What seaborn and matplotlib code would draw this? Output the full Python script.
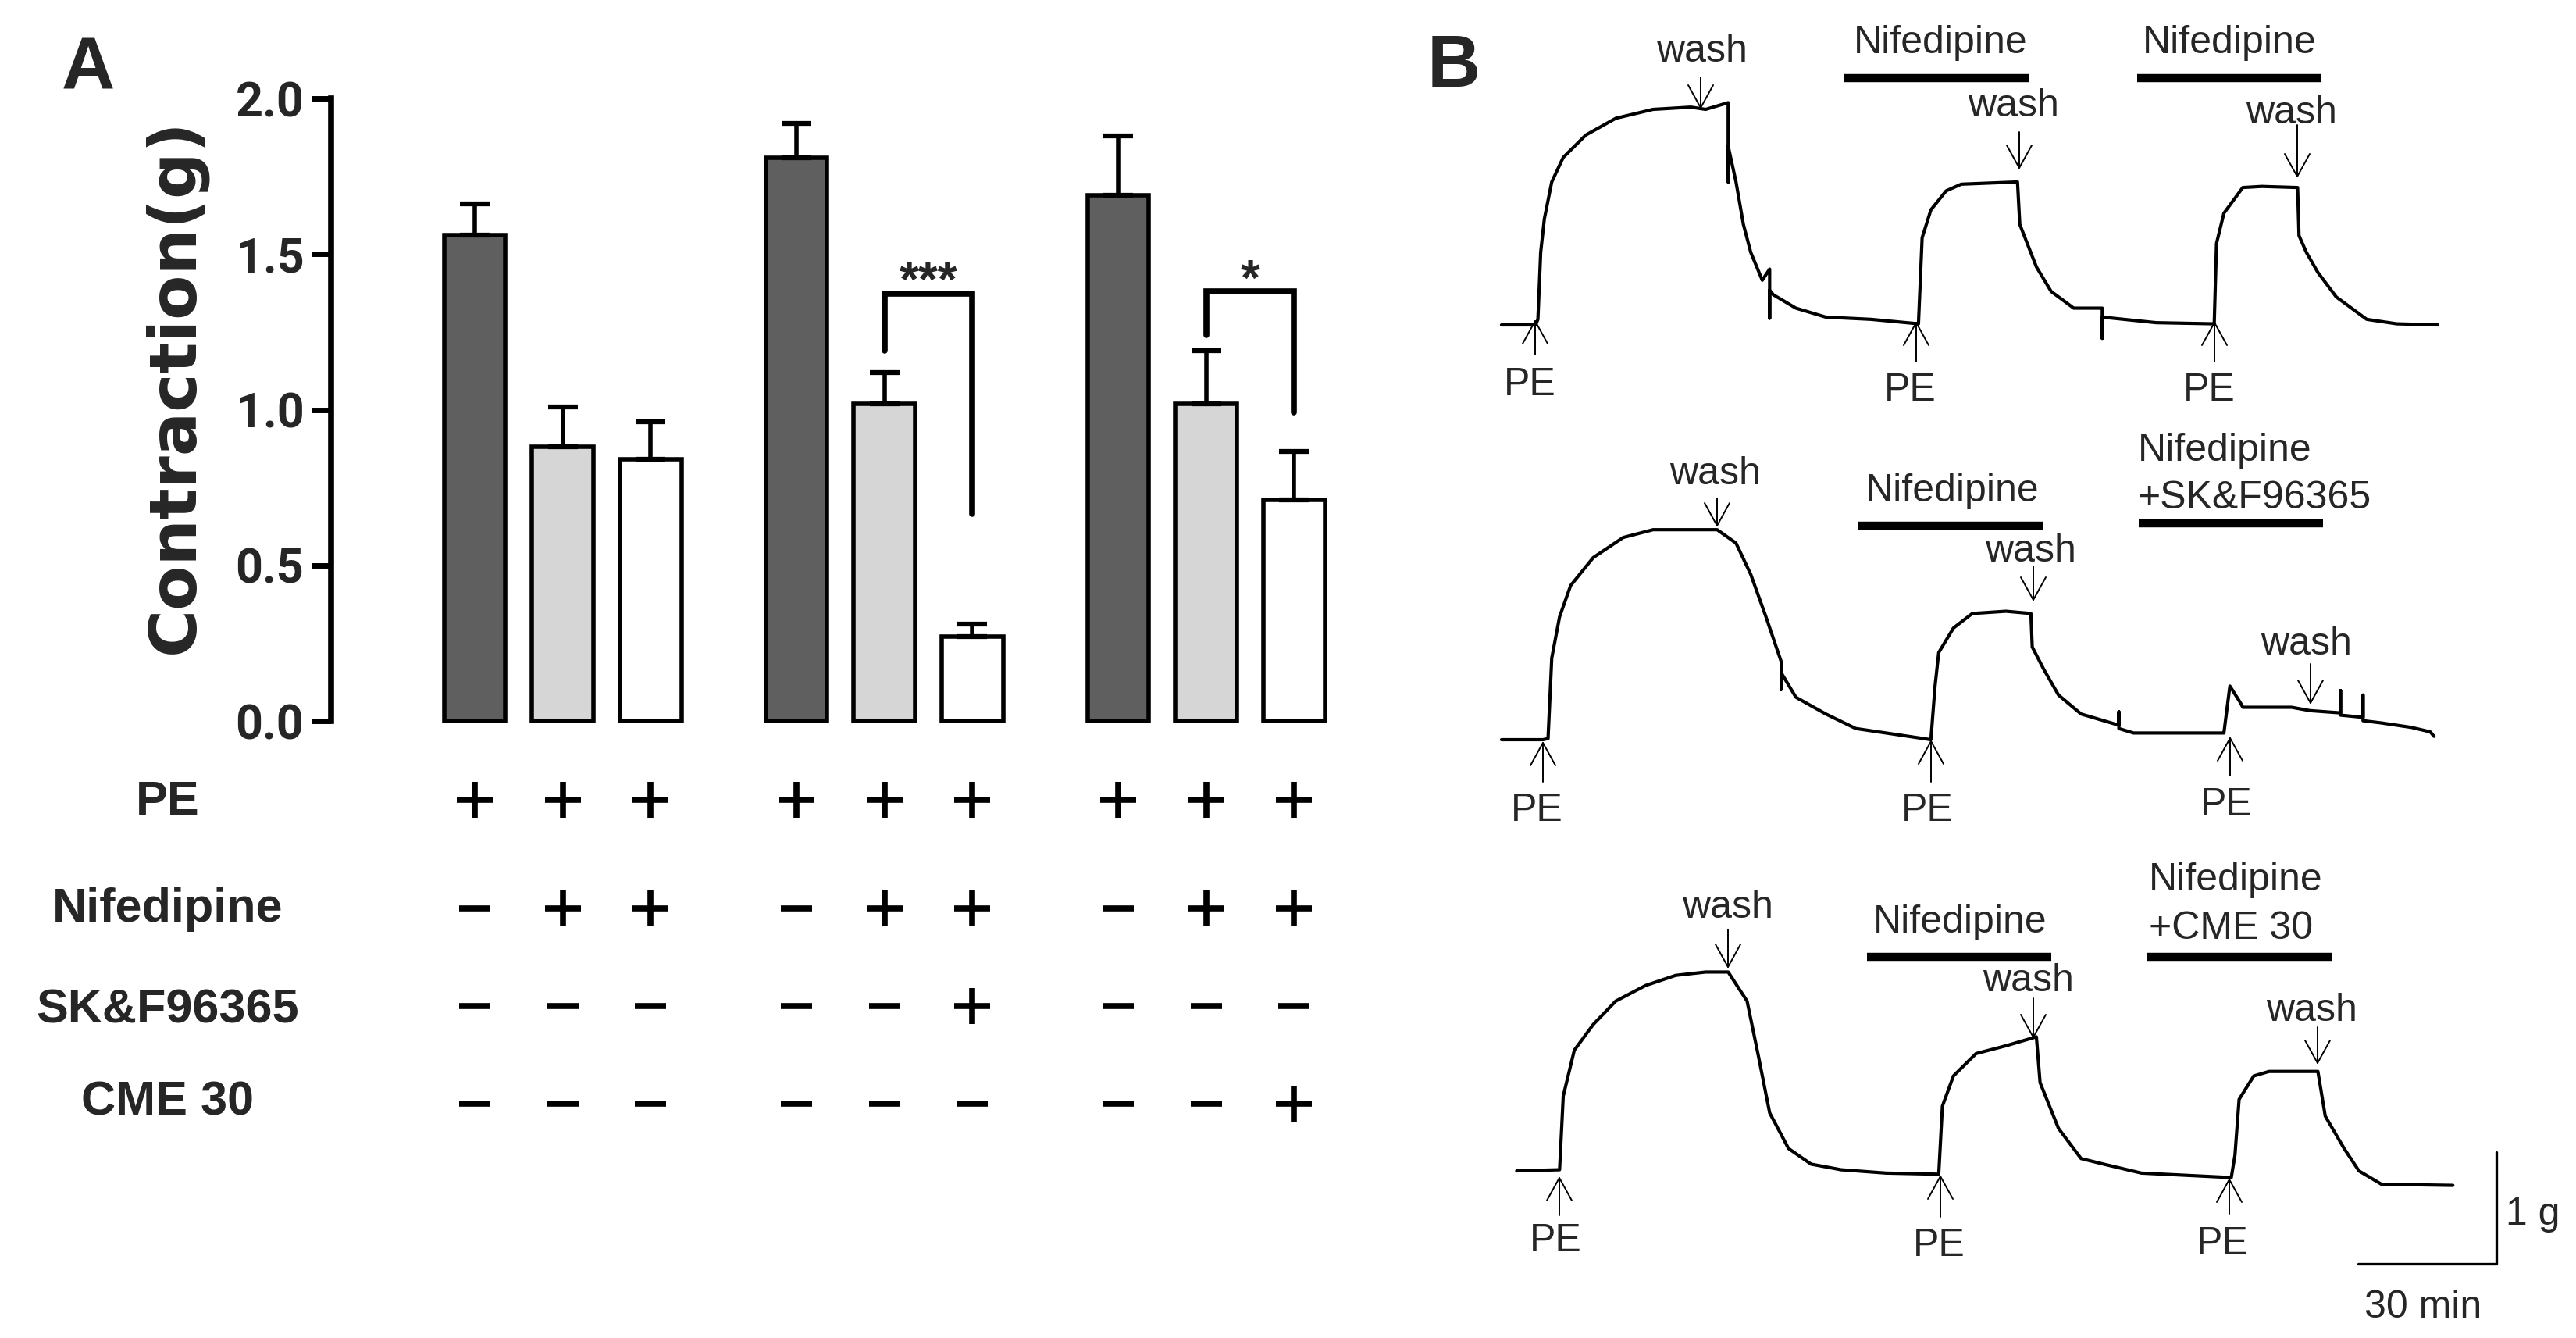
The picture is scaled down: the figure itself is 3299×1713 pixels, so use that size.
import numpy as np
import pandas as pd
import matplotlib
matplotlib.use("Agg")
import matplotlib.pyplot as plt
import seaborn as sns

# ---- data: panel A (mean contraction, g) ----
groups = ["set1", "set2", "set3"]
conditions = ["PE", "PE+Nifedipine", "PE+Nifedipine+blocker"]
means = [[1.56, 0.88, 0.84],
         [1.81, 1.02, 0.27],
         [1.69, 1.02, 0.71]]
sems = [[0.10, 0.13, 0.12],
        [0.11, 0.10, 0.04],
        [0.19, 0.17, 0.155]]
bar_colors = ["#5f5f5f", "#d6d6d6", "#ffffff"]

row_names = ["PE", "Nifedipine", "SK&F96365", "CME 30"]
pe_signs = ["+", "+", "+", "+", "+", "+", "+", "+", "+"]
nif_signs = ["-", "+", "+", "-", "+", "+", "-", "+", "+"]
skf_signs = ["-", "-", "-", "-", "-", "+", "-", "-", "-"]
cme_signs = ["-", "-", "-", "-", "-", "-", "-", "-", "+"]

# significance: group index, label, bracket top, left leg end, right leg end
sig_marks = [(1, "***", 1.373, 1.19, 0.665),
             (2, "*", 1.379, 1.24, 0.99)]

# ---- data: panel B traces (time in min, tension in g above baseline) ----
trace1_t = [0.5, 7.9, 8.4, 9.0, 9.8, 11.4, 13.9, 18.8, 25.3, 33.4, 41.6, 44.8, 49.7, 49.7, 49.7,
            51.4, 53.0, 54.6, 57.1, 58.7, 58.7, 58.7, 59.5, 64.4, 70.9, 80.7, 91.0, 91.8, 93.7,
            97.0, 100.3, 112.5, 113.0, 116.6, 119.8, 124.7, 130.9, 130.9, 130.9, 142.6, 155.2,
            155.7, 157.3, 161.4, 165.5, 173.3, 173.6, 175.2, 177.7, 181.7, 188.3, 194.8, 203.7]
trace1_g = [0.0, 0.0, 0.05, 0.65, 0.95, 1.28, 1.50, 1.70, 1.85, 1.93, 1.95, 1.93, 1.99, 1.28, 1.60,
            1.28, 0.90, 0.65, 0.40, 0.50, 0.06, 0.31, 0.27, 0.15, 0.07, 0.05, 0.01, 0.78, 1.03,
            1.20, 1.26, 1.28, 0.90, 0.52, 0.30, 0.15, 0.15, -0.12, 0.07, 0.02, 0.01,
            0.73, 1.00, 1.23, 1.24, 1.23, 0.80, 0.65, 0.47, 0.25, 0.05, 0.01, 0.0]

trace2_t = [0.5, 9.5, 10.6, 11.4, 13.1, 15.5, 20.4, 26.9, 33.4, 47.3, 51.4, 54.6, 57.9, 61.2,
            61.2, 61.2, 64.4, 70.9, 77.4, 85.6, 93.7, 94.6, 95.4, 98.6, 102.7, 110.0, 115.4, 115.7,
            118.2, 121.4, 126.3, 134.5, 134.5, 134.5, 137.7, 157.3, 158.6, 160.9, 161.4, 172.0,
            176.0, 182.6, 182.6, 182.6, 187.5, 187.5, 187.5, 191.5, 198.0, 202.1, 202.9]
trace2_g = [0.0, 0.0, 0.01, 0.73, 1.10, 1.38, 1.63, 1.81, 1.88, 1.88, 1.76, 1.48, 1.10, 0.70,
            0.45, 0.60, 0.38, 0.23, 0.10, 0.05, 0.0, 0.48, 0.78, 1.00, 1.13, 1.15, 1.13, 0.83,
            0.63, 0.40, 0.23, 0.13, 0.25, 0.10, 0.06, 0.06, 0.48, 0.33, 0.29, 0.29,
            0.26, 0.24, 0.44, 0.22, 0.20, 0.40, 0.17, 0.15, 0.11, 0.07, 0.03]

trace3_t = [3.8, 13.1, 13.9, 16.3, 20.4, 25.3, 31.8, 38.3, 44.8, 49.7, 53.8, 56.3, 58.7, 62.8,
            67.7, 74.2, 84.0, 95.4, 96.2, 98.6, 103.5, 110.0, 116.6, 117.4, 121.4, 126.3, 131.2,
            139.4, 158.9, 159.7, 160.6, 163.8, 167.1, 177.7, 179.3, 183.4, 186.6, 191.5, 207.0]
trace3_g = [0.0, 0.01, 0.67, 1.08, 1.31, 1.52, 1.66, 1.75, 1.78, 1.78, 1.52, 1.02, 0.52, 0.20,
            0.06, 0.01, -0.02, -0.03, 0.58, 0.85, 1.05, 1.12, 1.20, 0.79, 0.38, 0.11, 0.06,
            -0.02, -0.06, 0.14, 0.64, 0.85, 0.89, 0.89, 0.49, 0.20, 0.0, -0.12, -0.13]

scale_g = 1
scale_min = 30

# ---- figure ----
sns.set_theme(style="white")
plt.rcParams["font.family"] = ["Liberation Sans", "DejaVu Sans"]

W, H = 3299, 1713
fig = plt.figure(figsize=(W / 100, H / 100), dpi=100)

# panel A bars
ax_a = fig.add_axes([424 / W, 1 - 923 / H, 1296 / W, (923 - 126) / H])
df = pd.DataFrame({
    "group": [g for g in groups for _ in conditions],
    "cond": [c for _ in groups for c in conditions],
    "value": [v for row in means for v in row],
})
sns.barplot(data=df, x="group", y="value", hue="cond", order=groups, hue_order=conditions,
            palette=bar_colors, width=0.82, gap=0.3, edgecolor="black", linewidth=4,
            errorbar=None, legend=False, ax=ax_a)
for p in ax_a.patches:
    p.set_clip_on(False)
centers = sorted(p.get_x() + p.get_width() / 2 for p in ax_a.patches)
flat_means = [v for row in means for v in row]
flat_sems = [v for row in sems for v in row]
ax_a.errorbar(centers, flat_means, yerr=[np.zeros(len(flat_sems)), flat_sems], fmt="none",
              ecolor="black", elinewidth=4, capsize=14, capthick=4.5, zorder=1, clip_on=False)

for gi, label, top, left_end, right_end in sig_marks:
    xl, xr = centers[gi * 3 + 1], centers[gi * 3 + 2]
    ax_a.plot([xl, xl, xr, xr], [left_end, top, top, right_end], color="black", lw=5.5,
              solid_joinstyle="miter", clip_on=False)
    ax_a.text((xl + xr) / 2, top - 0.01, label, ha="center", va="baseline", fontsize=46,
              fontweight="bold")

ax_a.set_xlim(-0.72, 2.4257)
ax_a.set_ylim(0, 2.0)
ax_a.set_xticks([])
ax_a.set_xlabel("")
ax_a.set_ylabel("")
ax_a.set_yticks([0, 0.5, 1.0, 1.5, 2.0])
ax_a.set_yticklabels(["0.0", "0.5", "1.0", "1.5", "2.0"], fontsize=44, fontweight="bold",
                     fontfamily="Roboto")
ax_a.tick_params(axis="y", direction="out", length=18, width=5, pad=7, left=True, color="black")
sns.despine(ax=ax_a, bottom=True)
ax_a.spines["left"].set_linewidth(5.5)
ax_a.spines["left"].set_color("black")
ax_a.patch.set_visible(False)

fig.text(224 / W, 1 - 494 / H, "Contraction(g)", rotation=90, ha="center", va="center",
         fontsize=60, fontweight="bold", fontfamily="DejaVu Sans")
fig.text(113 / W, 1 - 114 / H, "A", ha="center", va="baseline", fontsize=68, fontweight="bold")

# treatment table under panel A
ax_t = fig.add_axes([424 / W, 0, 1296 / W, (H - 960) / H])
ax_t.set_xlim(ax_a.get_xlim())
ax_t.set_ylim(H, 960)
ax_t.axis("off")
row_y = [1024, 1163, 1288, 1413]
row_base = [1043, 1180, 1309, 1428]
for name, yb in zip(row_names, row_base):
    fig.text(215 / W, 1 - yb / H, name, ha="center", va="baseline", fontsize=44,
             fontweight="bold", fontfamily="Liberation Sans")
for signs, yy in zip([pe_signs, nif_signs, skf_signs, cme_signs], row_y):
    for cx, s in zip(centers, signs):
        if s == "+":
            ax_t.plot([cx], [yy], marker="+", ms=33, mew=5.5, color="black", ls="none")
        else:
            ax_t.plot([cx], [yy], marker="_", ms=29, mew=5.5, color="black", ls="none")

# panel B traces: 5.9 px per min, 143 px per g
ax_b = fig.add_axes([1850 / W, 0, (W - 1850) / W, 1])
ax_b.set_xlim((1850 - 1920) / 5.9, (W - 1920) / 5.9)
ax_b.set_ylim(0, H / 143)
ax_b.axis("off")
offsets = [(H - 416) / 143, (H - 947) / 143, (H - 1499) / 143]
for t, g, off in zip([trace1_t, trace2_t, trace3_t], [trace1_g, trace2_g, trace3_g], offsets):
    sns.lineplot(x=t, y=np.array(g) + off, sort=False, estimator=None, color="black",
                 linewidth=3.0, ax=ax_b)
sb_x, sb_y = 216.4, (H - 1618) / 143
ax_b.plot([sb_x - scale_min, sb_x, sb_x], [sb_y, sb_y, sb_y + scale_g], color="black", lw=2.4)

# panel B annotations in pixel coordinates
ov = fig.add_axes([0, 0, 1, 1])
ov.set_xlim(0, W)
ov.set_ylim(H, 0)
ov.axis("off")


def arrow(x, tail, tip):
    d = 1 if tip > tail else -1
    ov.plot([x, x], [tail, tip], color="black", lw=1.4)
    ov.plot([x - 16, x, x + 16], [tip - d * 29, tip, tip - d * 29], color="black", lw=1.4)


pe_arrows = [(1966, 454, 411), (2454, 463, 413), (2836, 463, 413),
             (1976, 1001, 951), (2473, 1001, 949), (2856, 993, 945),
             (1997, 1556, 1508), (2485, 1558, 1506), (2855, 1554, 1510)]
wash_arrows = [(2178, 99, 138), (2586, 169, 215), (2942, 160, 226),
               (2199, 638, 673), (2604, 725, 768), (2959, 850, 900),
               (2213, 1190, 1238), (2604, 1278, 1328), (2968, 1315, 1361)]
for x, a, b in pe_arrows + wash_arrows:
    arrow(x, a, b)

pe_labels = [(1959, 506), (2446, 513), (2829, 513),
             (1968, 1051), (2468, 1051), (2851, 1044),
             (1992, 1602), (2483, 1608), (2846, 1606)]
for x, y in pe_labels:
    ov.text(x, y, "PE", ha="center", va="baseline", fontsize=36)
wash_labels = [(2180, 79), (2579, 149), (2935, 158),
               (2197, 620), (2601, 719), (2954, 838),
               (2213, 1175), (2598, 1269), (2961, 1307)]
for x, y in wash_labels:
    ov.text(x, y, "wash", ha="center", va="baseline", fontsize=36)

drug_bars = [(2362, 2598, 100), (2737, 2973, 100),
             (2380, 2616, 673), (2739, 2975, 670),
             (2391, 2627, 1225), (2750, 2986, 1225)]
for x0, x1, y in drug_bars:
    ov.plot([x0, x1], [y, y], color="black", lw=7.5, solid_capstyle="butt")
ov.text(2485, 68, "Nifedipine", ha="center", va="baseline", fontsize=36)
ov.text(2855, 68, "Nifedipine", ha="center", va="baseline", fontsize=36)
ov.text(2500, 642, "Nifedipine", ha="center", va="baseline", fontsize=36)
ov.text(2738, 590, "Nifedipine", ha="left", va="baseline", fontsize=36)
ov.text(2738, 651, "+SK&F96365", ha="left", va="baseline", fontsize=36)
ov.text(2510, 1194, "Nifedipine", ha="center", va="baseline", fontsize=36)
ov.text(2752, 1140, "Nifedipine", ha="left", va="baseline", fontsize=36)
ov.text(2752, 1202, "+CME 30", ha="left", va="baseline", fontsize=36)
ov.text(3244, 1568, "1 g", ha="center", va="baseline", fontsize=36)
ov.text(3103, 1687, "30 min", ha="center", va="baseline", fontsize=36)
ov.text(1862, 111, "B", ha="center", va="baseline", fontsize=68, fontweight="bold")

fig.savefig("out.png", dpi=100, facecolor="white")
